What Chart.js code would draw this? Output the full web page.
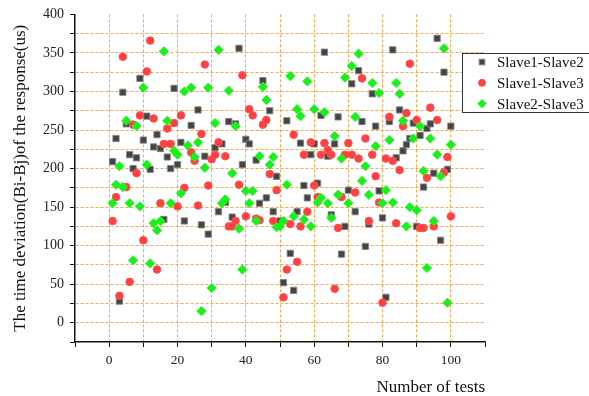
<!DOCTYPE html>
<html>
<head>
<meta charset="utf-8">
<script src="https://cdn.jsdelivr.net/npm/chart.js@4.4.0/dist/chart.umd.min.js"></script>
<style>
    html, body { margin: 0; padding: 0; background: #fff; }
    #wrap { width: 589px; height: 396px; }
</style>
</head>
<body>
<div id="wrap"><canvas id="chart" width="589" height="396"></canvas></div>
<script>
// Numer testu (oś X)
const tests = [
    1, 2, 3, 4, 5, 6, 7, 8, 9, 10, 11, 12, 13, 14, 15, 16, 17, 18, 19, 20,
    21, 22, 23, 24, 25, 26, 27, 28, 29, 30, 31, 32, 33, 34, 35, 36, 37, 38, 39, 40,
    41, 42, 43, 44, 45, 46, 47, 48, 49, 50, 51, 52, 53, 54, 55, 56, 57, 58, 59, 60,
    61, 62, 63, 64, 65, 66, 67, 68, 69, 70, 71, 72, 73, 74, 75, 76, 77, 78, 79, 80,
    81, 82, 83, 84, 85, 86, 87, 88, 89, 90, 91, 92, 93, 94, 95, 96, 97, 98, 99, 100
];

// Odchylenia czasowe (us), null = punkt niewidoczny
const slave12 = [
    209, 239, 28, 299, 258, 218, 200, 214, 317, 237, 268, 199, 228, 244, 226, 134, 215, 200, 304, 205,
    234, 132, null, 256, null, 276, 127, 216, 115, null, 227, 144, 232, 156, 261, 137, 258, 356, 205, 238,
    232, null, 211, 155, 314, 162, 275, 144, 190, 132, 52, 262, 90, 42, 144, 233, 178, 162, 218, 232,
    181, 269, 351, 216, 140, 232, 267, 89, 125, 172, 310, 144, 327, 261, 99, 128, 297, 255, 171, 136,
    33, 261, 354, 214, 276, 223, 231, 239, 259, 125, 243, 176, 252, 258, 194, 369, 107, 325, 199, 255
];
const slave13 = [
    132, 163, 35, 345, 176, 53, 257, 194, 269, 107, 326, 366, 265, 69, 155, 232, 252, 232, 259, 151,
    269, 175, null, 221, 210, 152, 245, 335, 178, 212, 218, 234, null, 216, 125, 125, 132, 179, 321, 138,
    277, 269, 135, 133, 257, 263, 193, 132, 172, null, 33, 69, 128, 244, 79, 125, 218, 144, 234, 178,
    163, 218, 233, 224, 218, 44, 123, 163, 218, 233, 218, 169, 213, 317, 239, 132, 218, 190, 156, 26,
    213, 267, 210, 129, 198, 255, 272, 336, null, 263, 123, 123, 188, 279, 125, 263, null, 195, 215, 138
];
const slave23 = [
    155, 179, 203, 176, 262, 155, 81, 255, 151, 305, 205, 77, 129, 120, 132, 352, 262, 155, 223, 218,
    168, 300, 230, 305, 215, 234, 15, 201, 305, 45, 259, 354, 155, 160, 301, 194, 255, 122, 69, 171,
    155, 171, 132, 216, 306, 289, 205, 215, 124, 125, 132, 179, 320, 138, 277, 268, 134, 313, 125, 277,
    156, 162, 273, 155, 136, 242, 166, 213, 318, 155, 333, 267, 349, 184, 203, 166, 311, 229, 298, 155,
    172, 237, 156, 311, 297, 262, 125, 150, 239, 146, 255, 197, 71, 239, 132, 218, 190, 356, 26, 231
];

const seriesNames = ['Slave1-Slave2', 'Slave1-Slave3', 'Slave2-Slave3'];

const FONT = "'Liberation Serif', 'Times New Roman', serif";
const GRID = 'rgba(250, 150, 50, 0.85)';
const NONE = 'rgba(0,0,0,0)';

function toPoints(vals) {
    return tests.map((t, i) => ({ x: t, y: vals[i] })).filter(p => p.y !== null);
}

// Legenda w ramce (prawy górny róg)
const boxLegend = {
    id: 'boxLegend',
    afterDraw(chart) {
        const ctx = chart.ctx;
        ctx.save();
        ctx.fillStyle = '#fff';
        ctx.fillRect(462, 53, 140, 60);
        ctx.strokeStyle = '#333';
        ctx.lineWidth = 1;
        ctx.strokeRect(462.5, 53.5, 140, 59);
        ctx.font = '15px ' + FONT;
        ctx.textBaseline = 'middle';
        chart.data.datasets.forEach((ds, i) => {
            const y = 62 + i * 20.8;
            ctx.fillStyle = ds.backgroundColor;
            ctx.strokeStyle = ds.borderColor;
            ctx.lineWidth = 1;
            Chart.helpers.drawPoint(ctx, {
                pointStyle: ds.pointStyle,
                radius: ds.legendRadius,
                borderWidth: 1,
                rotation: 0
            }, 482, y);
            ctx.fillStyle = '#111';
            ctx.fillText(ds.label, 497, y + 1);
        });
        ctx.restore();
    }
};

new Chart(document.getElementById('chart'), {
    type: 'scatter',
    data: {
        datasets: [{
            label: seriesNames[0],
            data: toPoints(slave12),
            pointStyle: 'rect',
            pointRadius: 4.4,
            legendRadius: 4,
            backgroundColor: '#444444',
            borderColor: 'rgba(130,130,130,0.9)',
            borderWidth: 1,
            order: 3
        }, {
            label: seriesNames[1],
            data: toPoints(slave13),
            pointStyle: 'circle',
            pointRadius: 3.8,
            legendRadius: 3.5,
            backgroundColor: '#ff4040',
            borderColor: '#ff5050',
            borderWidth: 1,
            order: 2
        }, {
            label: seriesNames[2],
            data: toPoints(slave23),
            pointStyle: 'rectRot',
            pointRadius: 4.6,
            legendRadius: 4.2,
            backgroundColor: '#18f018',
            borderColor: '#30ee30',
            borderWidth: 1,
            order: 1
        }]
    },
    options: {
        responsive: false,
        animation: false,
        layout: { padding: { top: 13, right: 104, bottom: 0, left: 0 } },
        plugins: {
            legend: { display: false },
            tooltip: { enabled: false }
        },
        scales: {
            x: {
                type: 'linear',
                min: -10,
                max: 110,
                afterFit: s => { s.height = 54; },
                ticks: {
                    stepSize: 10,
                    autoSkip: false,
                    maxRotation: 0,
                    padding: 5,
                    color: '#222',
                    font: { family: FONT, size: 13.5 },
                    callback: v => (v % 20 === 0 && v >= 0 && v <= 100) ? v : ''
                },
                grid: {
                    color: c => (c.tick && (c.tick.value <= -10 || c.tick.value >= 110)) ? NONE : GRID,
                    lineWidth: 1,
                    tickColor: '#111',
                    tickLength: 5,
                    tickWidth: 1
                },
                border: { color: '#111', width: 1.5, dash: [3, 2] },
                title: {
                    display: true,
                    text: 'Number of tests',
                    align: 'end',
                    color: '#111',
                    padding: { top: 0, bottom: 0 },
                    font: { family: FONT, size: 17, lineHeight: 1 }
                }
            },
            y: {
                type: 'linear',
                min: -25,
                max: 400,
                afterFit: s => { s.width = 75; },
                ticks: {
                    stepSize: 25,
                    autoSkip: false,
                    padding: 6,
                    color: '#222',
                    font: { family: FONT, size: 14 },
                    callback: v => (v % 50 === 0 && v >= 0) ? v : ''
                },
                grid: {
                    color: c => (c.tick && (c.tick.value <= -25 || c.tick.value >= 400)) ? NONE : GRID,
                    lineWidth: 1,
                    tickColor: '#111',
                    tickLength: 5,
                    tickWidth: 1
                },
                border: { color: '#111', width: 1.5, dash: [3, 2] },
                title: {
                    display: true,
                    text: 'The time deviation(Bi-Bj)of the response(us)',
                    color: '#111',
                    padding: { top: 12.5, bottom: 0 },
                    font: { family: FONT, size: 17, lineHeight: 1 }
                }
            }
        }
    },
    plugins: [boxLegend]
});
</script>
</body>
</html>
